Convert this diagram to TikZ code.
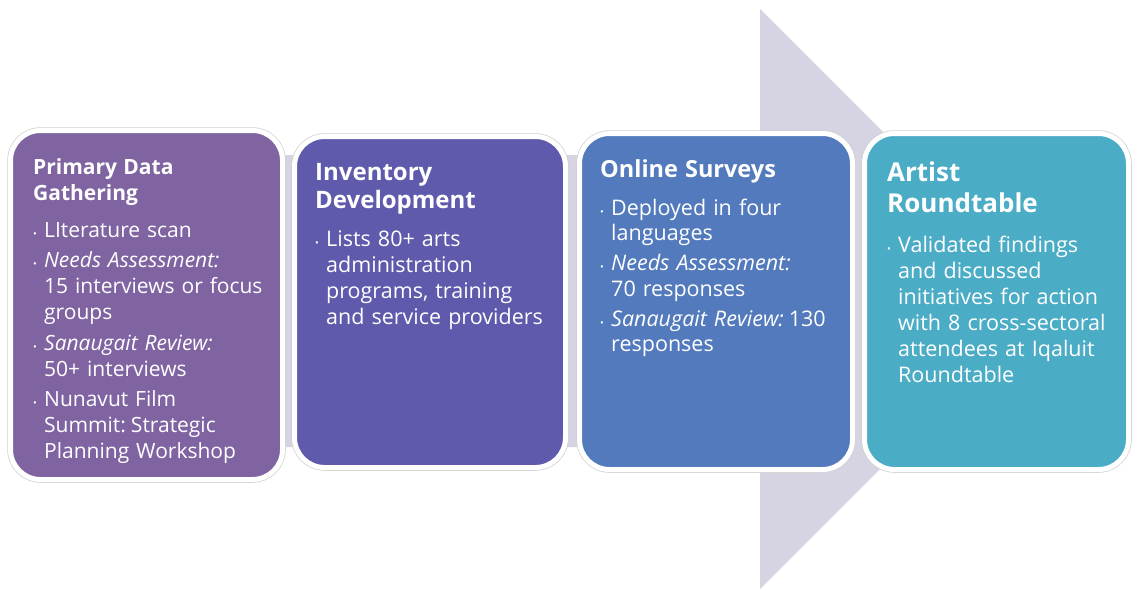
\documentclass[tikz,border=0pt]{standalone}
\usepackage{fontspec}
\setmainfont{Open Sans}
\usetikzlibrary{positioning}
\definecolor{bandgray}{RGB}{214,211,227}
\definecolor{stageA}{RGB}{128,100,162}
\definecolor{stageB}{RGB}{95,90,172}
\definecolor{stageC}{RGB}{82,122,188}
\definecolor{stageD}{RGB}{75,172,198}
% title and body fonts, with a little more room between words
\newcommand{\headfont}[2]{\fontsize{#1}{#2}\bfseries\selectfont\spaceskip=0.3em plus 0.1em\relax\ignorespaces}
\newcommand{\bodyfont}[2]{\par\fontsize{#1}{#2}\mdseries\selectfont\spaceskip=0.33em plus 0.1em\relax}
% one bullet point with hanging indent
\newcommand{\bul}{\par\vspace{4.5pt}\hangindent=11pt\hangafter=1\noindent\makebox[11pt][l]{\fontsize{10}{10}\selectfont\textbullet}}

\begin{document}
\begin{tikzpicture}[x=1pt, y=-1pt,
  stage/.style = {shape=rectangle, rounded corners=30pt, draw=white,
    line width=5pt, preaction={draw=black!18, line width=6.5pt}, inner sep=0pt},
  words/.style = {anchor=base west, inner sep=0pt, text=white, text width=#1}]
  \useasboundingbox (0,0) rectangle (1133,589);
  % big arrow behind the stages
  \fill[bandgray] (270,155) -- (760,155) -- (760,9) -- (1050,299)
    -- (760,589) -- (760,447) -- (270,447) -- cycle;

  \node[stage, fill=stageA, minimum width=272pt, minimum height=349pt] (gather) at (146.5,305) {};
  \node[stage, fill=stageB, minimum width=271pt, minimum height=331pt] (inventory) at (430,302) {};
  \node[stage, fill=stageC, minimum width=273pt, minimum height=336pt] (surveys) at (716,301.5) {};
  \node[stage, fill=stageD, minimum width=264pt, minimum height=336pt] (roundtable) at (996.5,301.5) {};

  \node[words=250pt] (gatherTxt) at (33,174) {\raggedright\headfont{21}{26}%
    Primary Data\newline Gathering\bodyfont{21}{26}\vspace{6.5pt}
    \bul LIterature scan
    \bul \textit{Needs Assessment:}\newline 15 interviews or focus\newline groups
    \bul \textit{Sanaugait Review:}\newline 50+ interviews
    \bul Nunavut Film\newline Summit: Strategic\newline Planning Workshop\par};
  \node[words=250pt] (inventoryTxt) at (315,180) {\raggedright\headfont{24}{28}%
    Inventory\newline Development\bodyfont{21.5}{26}\vspace{7.5pt}
    \bul Lists 80+ arts\newline administration\newline programs, training\newline and service providers\par};
  \node[words=250pt] (surveysTxt) at (600,177) {\raggedright\headfont{23.5}{26}%
    Online Surveys\bodyfont{21.5}{25.5}\vspace{8pt}
    \bul Deployed in four\newline languages
    \bul \textit{Needs Assessment:}\newline 70 responses
    \bul \textit{Sanaugait Review:} 130\newline responses\par};
  \node[words=240pt] (roundtableTxt) at (887,181) {\raggedright\headfont{26}{31}%
    Artist\newline Roundtable\bodyfont{21.5}{26}\vspace{9.5pt}
    \bul Validated findings\newline and discussed\newline initiatives for action\newline with 8 cross-sectoral\newline attendees at Iqaluit\newline Roundtable\par};
\end{tikzpicture}
\end{document}
